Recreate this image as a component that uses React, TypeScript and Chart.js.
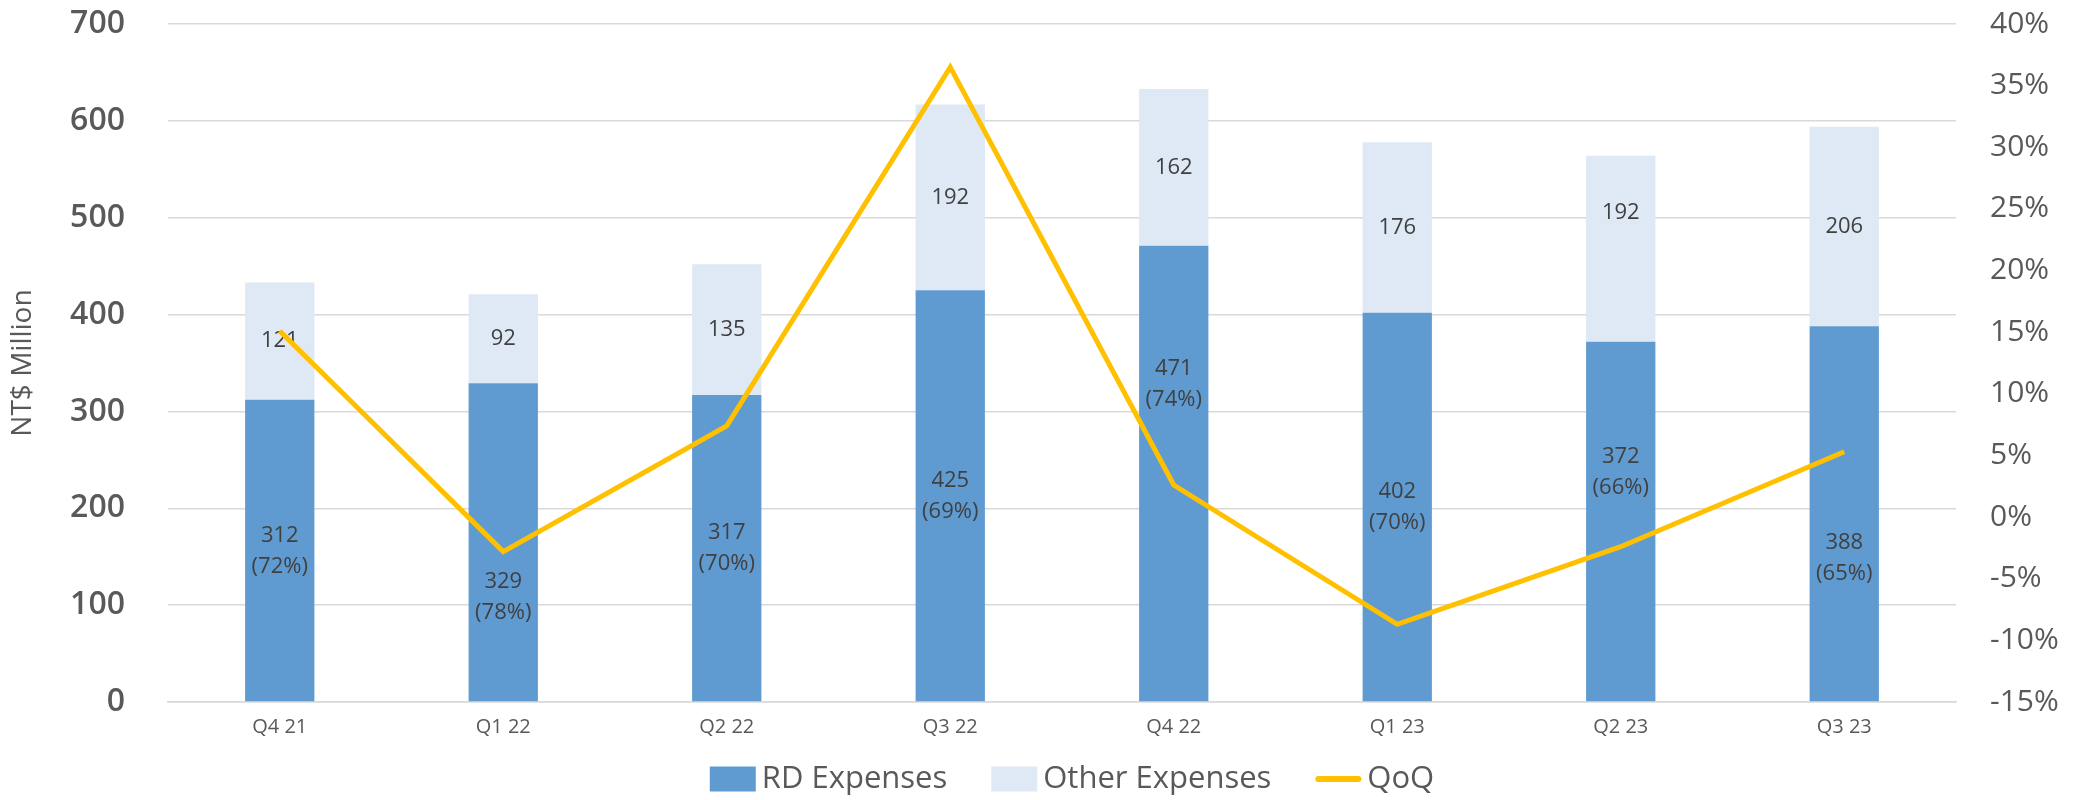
import React, { useEffect, useRef } from "react";
import { Chart, registerables } from "chart.js";

Chart.register(...registerables);

const categories = ["Q4 21", "Q1 22", "Q2 22", "Q3 22", "Q4 22", "Q1 23", "Q2 23", "Q3 23"];
const rdExpenses = [312, 329, 317, 425, 471, 402, 372, 388];
const otherExpenses = [121, 92, 135, 192, 162, 176, 192, 206];
const rdShare = [72, 78, 70, 69, 74, 70, 66, 65];
const qoqGrowth = [15.1, -2.8, 7.4, 36.5, 2.6, -8.7, -2.4, 5.3];
const leftTickMax = 700;
const leftTickStep = 100;
const rightTickMin = -15;
const rightTickMax = 40;
const rightTickStep = 5;

// label nudges (pixels) to mimic the reference placement
const rdLabelShift = [0, 54, 0, 0, -90, 0, -50, 44];
const otherLabelShift = [0, 0, 0, 0, 0, 0, -36, 0];

const FONT = "'Open Sans', 'Noto Sans', sans-serif";
const GREY = "#595959";
const RD_COLOR = "#5F9BD1";
const OTHER_COLOR = "#DEE9F5";
const LINE_COLOR = "#FFC000";

const labelPlugin = {
  id: "barLabels",
  afterDatasetDraw(chart: any, args: any) {
    const idx = args.index;
    if (idx !== 0 && idx !== 1) return;
    const meta = chart.getDatasetMeta(idx);
    const ctx = chart.ctx;
    ctx.save();
    ctx.fillStyle = "#404040";
    ctx.font = `500 22px ${FONT}`;
    ctx.textAlign = "center";
    ctx.textBaseline = "middle";
    meta.data.forEach((bar: any, i: number) => {
      const cy = (bar.y + bar.base) / 2;
      if (idx === 0) {
        const c = cy + rdLabelShift[i];
        ctx.fillText(String(rdExpenses[i]), bar.x, c - 15);
        ctx.fillText(`(${rdShare[i]}%)`, bar.x, c + 16);
      } else {
        ctx.fillText(String(otherExpenses[i]), bar.x, cy + otherLabelShift[i]);
      }
    });
    ctx.restore();
  },
};

const legendPlugin = {
  id: "customLegend",
  afterDraw(chart: any) {
    const ctx = chart.ctx;
    const items = chart.data.datasets.map((ds: any) => ({
      label: ds.label,
      kind: ds.type === "line" ? "line" : "rect",
      color: ds.type === "line" ? ds.borderColor : ds.backgroundColor,
    }));
    const boxW = 46;
    const boxH = 25;
    const boxGap = 6;
    const itemGap = 44;
    ctx.save();
    ctx.font = `31px ${FONT}`;
    const widths = items.map((it: any) => boxW + boxGap + ctx.measureText(it.label).width);
    const total = widths.reduce((a: number, b: number) => a + b, 0) + itemGap * (items.length - 1);
    const area = chart.chartArea;
    let x = (area.left + area.right) / 2 + 10 - total / 2;
    const cy = 779;
    items.forEach((it: any, i: number) => {
      if (it.kind === "rect") {
        ctx.fillStyle = it.color;
        ctx.fillRect(x, cy - boxH / 2, boxW, boxH);
      } else {
        ctx.strokeStyle = it.color;
        ctx.lineWidth = 6;
        ctx.lineCap = "round";
        ctx.beginPath();
        ctx.moveTo(x + 3, cy);
        ctx.lineTo(x + boxW - 3, cy);
        ctx.stroke();
      }
      ctx.fillStyle = GREY;
      ctx.textAlign = "left";
      ctx.textBaseline = "middle";
      ctx.fillText(it.label, x + boxW + boxGap, cy);
      x += widths[i] + itemGap;
    });
    ctx.restore();
  },
};

export default function App() {
  const ref = useRef<HTMLCanvasElement | null>(null);

  useEffect(() => {
    if (!ref.current) return;
    Chart.defaults.font.family = FONT;
    const chart = new Chart(ref.current, {
      type: "bar",
      data: {
        labels: categories,
        datasets: [
          {
            type: "bar",
            label: "RD Expenses",
            data: rdExpenses,
            backgroundColor: RD_COLOR,
            yAxisID: "y",
            order: 1,
            barPercentage: 0.31,
            categoryPercentage: 1,
          },
          {
            type: "bar",
            label: "Other Expenses",
            data: otherExpenses,
            backgroundColor: OTHER_COLOR,
            yAxisID: "y",
            order: 1,
            barPercentage: 0.31,
            categoryPercentage: 1,
          },
          {
            type: "line",
            label: "QoQ",
            data: qoqGrowth,
            borderColor: LINE_COLOR,
            backgroundColor: LINE_COLOR,
            borderWidth: 5,
            pointRadius: 0,
            tension: 0,
            yAxisID: "y1",
            order: 0,
          } as any,
        ],
      },
      options: {
        animation: false,
        responsive: true,
        maintainAspectRatio: false,
        layout: { padding: { top: 24, left: 0, right: 0, bottom: 48 } },
        plugins: {
          tooltip: { enabled: false },
          legend: { display: false },
        },
        scales: {
          x: {
            stacked: true,
            grid: { display: false, drawTicks: false },
            border: { display: true, color: "#D9D9D9", width: 1.5 },
            ticks: { color: GREY, font: { size: 20 }, padding: 13 },
            afterFit: (s: any) => {
              s.height = 50;
            },
          },
          y: {
            stacked: true,
            position: "left",
            min: 0,
            max: leftTickMax,
            ticks: { stepSize: leftTickStep, color: GREY, font: { size: 32, weight: 600 }, padding: 43 },
            grid: { color: "#D9D9D9", lineWidth: 1.5, drawTicks: false },
            border: { display: false },
            title: {
              display: true,
              text: "NT$ Million",
              color: GREY,
              font: { size: 28 },
              padding: { top: 6, bottom: 0 },
            },
            afterFit: (s: any) => {
              s.width = 168;
              s.paddingTop = 10;
              s.paddingBottom = 10;
            },
          },
          y1: {
            position: "right",
            min: rightTickMin,
            max: rightTickMax,
            ticks: {
              stepSize: rightTickStep,
              color: GREY,
              font: { size: 30, weight: 500 },
              padding: 34,
              callback: (v: any) => `${v}%`,
            },
            grid: { display: false, drawTicks: false },
            border: { display: false },
            afterFit: (s: any) => {
              s.width = 128;
              s.paddingTop = 10;
              s.paddingBottom = 10;
            },
          },
        },
      },
      plugins: [labelPlugin, legendPlugin],
    });
    return () => chart.destroy();
  }, []);

  return (
    <div style={{ position: "fixed", left: 0, top: 0, width: 2084, height: 800, background: "#fff" }}>
      <canvas ref={ref} style={{ display: "block" }} />
    </div>
  );
}
